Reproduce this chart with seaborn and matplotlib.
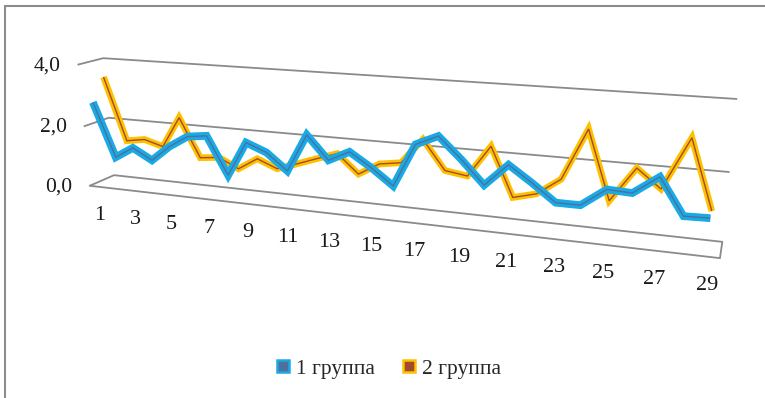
import numpy as np
import pandas as pd
import matplotlib
matplotlib.use("Agg")
import matplotlib.pyplot as plt
from matplotlib.lines import Line2D
import seaborn as sns

# ---- data -----------------------------------------------------------------
categories = list(range(1, 30))
group1 = [2.79, 1.03, 1.40, 1.05, 1.56, 1.94, 2.02, 0.82, 1.92, 1.67,
          1.15, 2.33, 1.61, 1.93, 1.51, 1.02, 2.33, 2.63, 2.01, 1.32,
          1.98, 1.52, 1.02, 1.02, 1.54, 1.51, 2.03, 1.01, 1.03]
group2 = [3.49, 1.42, 1.52, 1.34, 2.35, 1.09, 1.16, 0.85, 1.24, 0.98,
          1.20, 1.43, 1.65, 1.07, 1.45, 1.55, 2.32, 1.44, 1.34, 2.29,
          0.83, 1.01, 1.51, 3.01, 1.02, 2.03, 1.50, 2.99, 1.02]
series_names = ["1 группа", "2 группа"]
y_ticks = [0.0, 2.0, 4.0]
x_tick_labels = [str(c) for c in categories if c % 2 == 1]

# ---- styling --------------------------------------------------------------
W, H = 765, 398
edge_colors = {"1 группа": "#19aae6", "2 группа": "#ffc000"}
fill_colors = {"1 группа": "#4f6f9c", "2 группа": "#a24a2c"}
depth = {"1 группа": 0.10, "2 группа": 0.60}   # position of each ribbon inside the box
grid_color = "#8a8a8a"

sns.set_theme(style="white")
plt.rcParams["font.family"] = ["Liberation Serif", "DejaVu Serif"]

# ---- 3-D box: perspective camera solved from the box outline -------------
n_cat = len(categories)
v_max = y_ticks[-1]
box_world = [(0, 0, 0), (n_cat, 0, 0), (0, 0, 1), (n_cat, 0, 1),
             (0, 2, 0), (0, 2, 1), (n_cat, 2, 1),
             (0, 4, 0), (0, 4, 1), (n_cat, 4, 1)]
box_screen = [(89, 186), (720, 258), (115, 175), (722, 242),
              (84, 126), (108, 118), (730, 172),
              (78, 65), (103, 58), (737, 99)]


def _norm_world(X, Y, Z):
    return X / n_cat, Y / v_max, Z


def fit_camera(world, screen):
    rows = []
    for (X, Y, Z), (u, v) in zip(world, screen):
        x, y, z = _norm_world(X, Y, Z)
        un, vn = (u - 400) / 400, (v - 200) / 400
        rows.append([x, y, z, 1, 0, 0, 0, 0, -un * x, -un * y, -un * z, -un])
        rows.append([0, 0, 0, 0, x, y, z, 1, -vn * x, -vn * y, -vn * z, -vn])
    _, _, vt = np.linalg.svd(np.asarray(rows, float))
    return vt[-1].reshape(3, 4)


P = fit_camera(box_world, box_screen)


def project(X, Y, Z):
    X, Y, Z = np.broadcast_arrays(np.asarray(X, float), np.asarray(Y, float),
                                  np.asarray(Z, float))
    x, y, z = _norm_world(X, Y, Z)
    hom = P @ np.vstack([x, y, z, np.ones_like(x)])
    u = hom[0] / hom[2] * 400 + 400
    v = hom[1] / hom[2] * 400 + 200
    return u, v


# ---- figure ---------------------------------------------------------------
fig = plt.figure(figsize=(W / 100, H / 100), dpi=100)
ax = fig.add_axes([0, 0, 1, 1])
ax.set_xlim(0, W)
ax.set_ylim(H, 0)

# gridlines: side wall segment + back wall
for t in y_ticks:
    u, v = project([0, 0, n_cat], [t, t, t], [0, 1, 1])
    ax.plot(u, v, color=grid_color, lw=1.3, solid_capstyle="butt", zorder=1)
    lu, lv = project(0, t, 0)
    ax.text(lu[0] - 17, lv[0] + 1, f"{t:.1f}".replace(".", ","),
            ha="right", va="center", fontsize=15.5, color="#1a1a1a")

# floor outline (front and right edges)
u, v = project([0, n_cat, n_cat], [0, 0, 0], [0, 0, 1])
ax.plot(u, v, color=grid_color, lw=1.3, zorder=1)

# category labels under the front edge
for c in categories:
    if str(c) in x_tick_labels:
        lu, lv = project(c - 0.5, 0, 0)
        ax.text(lu[0] + 1, lv[0] + 29, str(c), ha="center", va="center",
                fontsize=16, color="#1a1a1a")

# data ribbons: back series first, front series last
frames = []
for name, vals in zip(series_names, [group1, group2]):
    X = np.asarray(categories, float) - 0.5
    u, v = project(X, vals, depth[name])
    frames.append(pd.DataFrame({"u": u, "v": v, "group": name, "order": categories}))
df = pd.concat(frames, ignore_index=True)

for name, lw in [("2 группа", 4.8), ("1 группа", 5.6)]:
    sub = df[df["group"] == name]
    sns.lineplot(data=sub, x="u", y="v", sort=False, estimator=None,
                 color=edge_colors[name], lw=lw, ax=ax, legend=False,
                 solid_joinstyle="miter", solid_capstyle="butt", zorder=3)
    sns.lineplot(data=sub, x="u", y="v", sort=False, estimator=None,
                 color=fill_colors[name], lw=1.0, ax=ax, legend=False,
                 solid_joinstyle="miter", solid_capstyle="butt", zorder=3)

ax.set_xlim(0, W)
ax.set_ylim(H, 0)
ax.set_axis_off()

# legend
handles = [Line2D([], [], ls="none", marker="s", markersize=9,
                  markerfacecolor=fill_colors[n], markeredgecolor=edge_colors[n],
                  markeredgewidth=1.8, label=n) for n in series_names]
fig.legend(handles=handles, loc="center", bbox_to_anchor=(0.508, 0.073),
           ncol=2, frameon=False, fontsize=15.5, handlelength=0.6,
           handletextpad=0.3, columnspacing=1.3)

# chart-area border (left and top edges)
fig.add_artist(Line2D([5 / W, 5 / W], [0, 1 - 5.5 / H], color="#8c8c8c", lw=1.5))
fig.add_artist(Line2D([5 / W, 1], [1 - 5.5 / H, 1 - 5.5 / H], color="#8c8c8c", lw=1.5))

fig.savefig("out.png", dpi=100)
